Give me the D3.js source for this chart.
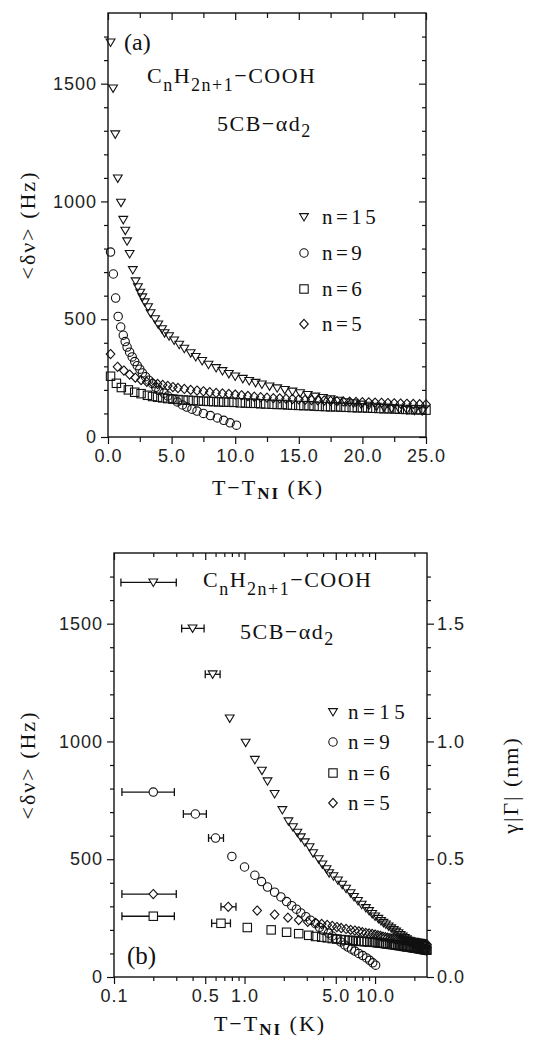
<!DOCTYPE html>
<html><head><meta charset="utf-8">
<script src="https://cdn.jsdelivr.net/npm/d3@7"></script>
<style>
html,body{margin:0;padding:0;background:#fff;}
svg{display:block;}
.tk text{font-family:"Liberation Sans",Arial,sans-serif;font-size:18px;letter-spacing:1px;fill:#222;}
.tk path{display:none;}
.tk line{stroke:#111;stroke-width:1.2;}
.serif{font-family:"Liberation Serif","Times New Roman","DejaVu Serif",serif;fill:#111;}
</style></head>
<body>
<script>
// ---------------- data ----------------
const seriesNames = ["n=15", "n=9", "n=6", "n=5"];

const n15X = [0.2, 0.4, 0.57, 0.77, 1.02, 1.2, 1.36, 1.5, 1.7, 1.95, 2.17, 2.35, 2.54, 2.7, 2.9, 3.15, 3.35, 3.7, 3.95, 4.25, 4.45, 4.8, 5.2, 5.6, 6.0, 6.5, 6.9, 7.4, 7.9, 8.5, 9.0, 9.5, 10.0, 10.6, 11.1, 11.6, 12.1, 12.7, 13.3, 13.9, 14.5, 15.1, 15.7, 16.3, 16.9, 17.5, 18.1, 18.7, 19.3, 19.9, 20.5, 21.1, 21.7, 22.3, 22.9, 23.5, 24.1, 24.7];
const n15Y = [1675, 1480, 1285, 1098, 995, 922, 876, 831, 777, 709, 661, 636, 613, 593, 572, 551, 526, 500, 478, 458, 441, 428, 410, 392, 375, 356, 340, 323, 307, 293, 280, 268, 257, 247, 238, 230, 223, 215, 207, 200, 193, 186, 179, 172, 166, 160, 154, 148, 143, 138, 133, 129, 125, 121, 118, 115, 112, 110];
const n15Err = [[0.113, 0.30], [0.33, 0.49], [0.50, 0.65]];

const n9X = [0.2, 0.42, 0.6, 0.8, 1.0, 1.2, 1.35, 1.5, 1.7, 1.9, 2.1, 2.3, 2.5, 2.7, 2.95, 3.2, 3.5, 3.75, 4.0, 4.4, 4.7, 5.05, 5.45, 5.85, 6.2, 6.6, 7.0, 7.5, 8.05, 8.6, 9.1, 9.6, 10.1];
const n9Y = [785, 692, 590, 512, 467, 432, 405, 382, 360, 340, 320, 303, 288, 272, 256, 241, 226, 211, 198, 186, 174, 162, 149, 136, 127, 118, 110, 100, 91, 81, 71, 60, 50];
const n9Err = [[0.115, 0.29], [0.34, 0.51], [0.53, 0.69]];

const n6X = [0.2, 0.66, 1.05, 1.6, 2.1, 2.6, 3.1, 3.5, 3.9, 4.3, 4.7, 5.1, 5.5, 5.9, 6.3, 6.7, 7.1, 7.5, 7.9, 8.3, 8.7, 9.1, 9.5, 9.9, 10.4, 10.8, 11.2, 11.6, 12.0, 12.4, 12.9, 13.3, 13.7, 14.1, 14.5, 15.0, 15.4, 15.8, 16.2, 16.6, 17.1, 17.5, 17.9, 18.3, 18.7, 19.2, 19.6, 20.0, 20.4, 20.8, 21.3, 21.7, 22.1, 22.5, 22.9, 23.4, 23.8, 24.2, 24.6, 25.0];
const n6Y = [258, 228, 210, 200, 190, 184, 177, 172, 169, 166, 163, 161, 159, 157, 156, 155, 153, 152, 151, 150, 149, 148, 148, 147, 145, 144, 143, 143, 141, 140, 139, 138, 138, 136, 135, 134, 133, 133, 131, 130, 129, 128, 128, 127, 126, 125, 124, 124, 123, 122, 121, 120, 120, 119, 118, 117, 116, 116, 115, 114];
const n6Err = [[0.115, 0.29], [0.56, 0.78]];

const n5X = [0.2, 0.75, 1.25, 1.7, 2.15, 2.6, 3.05, 3.5, 3.9, 4.3, 4.7, 5.1, 5.5, 6.0, 6.5, 7.0, 7.5, 8.0, 8.5, 9.0, 9.5, 10.0, 10.5, 11.0, 11.5, 12.0, 12.5, 13.0, 13.5, 14.0, 14.5, 15.0, 15.5, 16.0, 16.5, 17.0, 17.5, 18.0, 18.5, 19.0, 19.5, 20.0, 20.5, 21.0, 21.5, 22.0, 22.5, 23.0, 23.5, 24.0, 24.5, 25.0];
const n5Y = [352, 298, 282, 265, 252, 242, 234, 230, 225, 221, 217, 212, 208, 204, 200, 197, 194, 190, 187, 185, 183, 180, 177, 174, 171, 169, 167, 165, 164, 162, 161, 160, 158, 157, 156, 155, 153, 152, 151, 150, 149, 148, 147, 146, 145, 144, 143, 142, 141, 140, 139, 138];
const n5Err = [[0.115, 0.30], [0.66, 0.86]];

// tick labels
const linTickLabels = [0, 5, 10, 15, 20, 25];
const logTickLabels = [0.1, 0.5, 1, 5, 10];
const hzTicks = [0, 500, 1000, 1500];
const nmTicks = [0, 0.5, 1.0, 1.5];

// ---------------- drawing ----------------
const W = 538, H = 1042;
const svg = d3.select("body").append("svg").attr("width", W).attr("height", H);
svg.append("rect").attr("width", W).attr("height", H).attr("fill", "#fff");

const series = [
  {name: seriesNames[3], xs: n5X, ys: n5Y, err: n5Err, shape: "dia"},
  {name: seriesNames[2], xs: n6X, ys: n6Y, err: n6Err, shape: "sq"},
  {name: seriesNames[1], xs: n9X, ys: n9Y, err: n9Err, shape: "circ"},
  {name: seriesNames[0], xs: n15X, ys: n15Y, err: n15Err, shape: "tri"}
];
const legendOrder = ["tri", "circ", "sq", "dia"];

function drawMarker(g, shape, x, y, fill) {
  let el;
  if (shape === "circ") el = g.append("circle").attr("cx", x).attr("cy", y).attr("r", 4.2);
  else if (shape === "sq") el = g.append("rect").attr("x", x - 4.2).attr("y", y - 4.2).attr("width", 8.4).attr("height", 8.4);
  else if (shape === "tri") el = g.append("path").attr("d", "M-4.4,-3.4L4.4,-3.4L0,4Z").attr("transform", `translate(${x},${y})`);
  else el = g.append("path").attr("d", "M0,-4.6L4.3,0L0,4.6L-4.3,0Z").attr("transform", `translate(${x},${y})`);
  el.attr("fill", fill || "none").attr("stroke", "#111").attr("stroke-width", 1.1);
}

function styleAxis(g) { g.attr("class", "tk"); }

function chemText(x, y1, x2, y2, size) {
  const t = svg.append("text").attr("class", "serif").attr("x", x).attr("y", y1)
    .attr("font-size", size).attr("letter-spacing", 1.5);
  t.append("tspan").text("C");
  t.append("tspan").attr("dy", 8).attr("font-size", size - 4).text("n");
  t.append("tspan").attr("dy", -8).text("H");
  t.append("tspan").attr("dy", 8).attr("font-size", size - 4).text("2n+1");
  t.append("tspan").attr("dy", -8).text("\u2212COOH");
  const t2 = svg.append("text").attr("class", "serif").attr("x", x2).attr("y", y2)
    .attr("font-size", size).attr("letter-spacing", 1.5);
  t2.append("tspan").text("5CB\u2212\u03B1d");
  t2.append("tspan").attr("dy", 6).attr("font-size", size - 4).text("2");
}

function xTitle(cx, y) {
  const t = svg.append("text").attr("class", "serif").attr("x", cx).attr("y", y)
    .attr("text-anchor", "middle").attr("font-size", 22).attr("letter-spacing", 2);
  t.append("tspan").text("T\u2212T");
  t.append("tspan").attr("dy", 4).attr("font-size", 17).attr("font-weight", "bold").text("NI");
  t.append("tspan").attr("dy", -4).text(" (K)");
}

function yTitle(x, cy, txt) {
  svg.append("text").attr("class", "serif").attr("transform", `translate(${x},${cy}) rotate(-90)`)
    .attr("text-anchor", "middle").attr("font-size", 22).attr("letter-spacing", 2).text(txt);
}

function legend(sx, tx, ys, spacing) {
  legendOrder.forEach((shape, i) => {
    const s = series.find(d => d.shape === shape);
    drawMarker(svg, shape, sx, ys[i], "none");
    svg.append("text").attr("class", "serif").attr("x", tx).attr("y", ys[i] + 7)
      .attr("font-size", 21).attr("letter-spacing", spacing).text(s.name);
  });
}

// ===== Panel (a) =====
const xA = d3.scaleLinear().domain([0, 25]).range([108, 426]);
const yA = d3.scaleLinear().domain([0, 1800]).range([437, 13]);

svg.append("rect").attr("x", 108).attr("y", 13).attr("width", 318).attr("height", 424)
  .attr("fill", "none").attr("stroke", "#111").attr("stroke-width", 1.4);

const minorHz = d3.range(100, 1800, 100).filter(v => v % 500 !== 0);
svg.append("g").attr("transform", "translate(108,0)").call(
  d3.axisLeft(yA).tickValues(hzTicks).tickSize(7).tickPadding(4).tickFormat(d3.format("d"))).call(styleAxis);
svg.append("g").attr("transform", "translate(108,0)").call(
  d3.axisLeft(yA).tickValues(minorHz).tickSize(4).tickFormat("")).call(styleAxis);
svg.append("g").attr("transform", "translate(426,0)").call(
  d3.axisLeft(yA).tickValues(hzTicks).tickSize(7).tickFormat("")).call(styleAxis);
svg.append("g").attr("transform", "translate(426,0)").call(
  d3.axisLeft(yA).tickValues(minorHz).tickSize(4).tickFormat("")).call(styleAxis);
const minorLin = d3.range(2.5, 25, 5);
svg.append("g").attr("transform", "translate(0,437)").call(
  d3.axisBottom(xA).tickValues(linTickLabels).tickSize(7).tickPadding(5).tickFormat(d3.format(".1f"))).call(styleAxis);
svg.append("g").attr("transform", "translate(0,437)").call(
  d3.axisBottom(xA).tickValues(minorLin).tickSize(5).tickFormat("")).call(styleAxis);
svg.append("g").attr("transform", "translate(0,13)").call(
  d3.axisBottom(xA).tickValues(linTickLabels).tickSize(7).tickFormat("")).call(styleAxis);
svg.append("g").attr("transform", "translate(0,13)").call(
  d3.axisBottom(xA).tickValues(minorLin).tickSize(5).tickFormat("")).call(styleAxis);

const gA = svg.append("g");
series.forEach(s => {
  d3.zip(s.xs, s.ys).forEach(([x, y]) => drawMarker(gA, s.shape, xA(x), yA(y), "none"));
});

svg.append("text").attr("class", "serif").attr("x", 124).attr("y", 50).attr("font-size", 24).text("(a)");
chemText(147, 83, 217, 131, 22);
legend(304, 322, [217, 253, 289, 324], 3.5);
xTitle(268, 495);
yTitle(35, 225, "<\u03B4\u03BD> (Hz)");

// ===== Panel (b) =====
const xB = d3.scaleLog().domain([0.1, 25]).range([114, 427]);
const yB = d3.scaleLinear().domain([0, 1800]).range([977, 553]);
const yB2 = d3.scaleLinear().domain([0, 1.8]).range([977, 553]);

svg.append("rect").attr("x", 114).attr("y", 553).attr("width", 313).attr("height", 424)
  .attr("fill", "none").attr("stroke", "#111").attr("stroke-width", 1.4);

svg.append("g").attr("transform", "translate(114,0)").call(
  d3.axisLeft(yB).tickValues(hzTicks).tickSize(7).tickPadding(4).tickFormat(d3.format("d"))).call(styleAxis);
svg.append("g").attr("transform", "translate(114,0)").call(
  d3.axisLeft(yB).tickValues(minorHz).tickSize(4).tickFormat("")).call(styleAxis);
const minorNm = d3.range(0.1, 1.8, 0.1).filter(v => Math.abs(v * 2 - Math.round(v * 2)) > 1e-6);
svg.append("g").attr("transform", "translate(427,0)").call(
  d3.axisRight(yB2).tickValues(nmTicks).tickSize(7).tickPadding(3).tickFormat(d3.format(".1f"))).call(styleAxis);
svg.append("g").attr("transform", "translate(427,0)").call(
  d3.axisRight(yB2).tickValues(minorNm).tickSize(4).tickFormat("")).call(styleAxis);

const logMinor = [];
[0.1, 1, 10].forEach(dec => { for (let k = 1; k <= 9; k++) { const v = dec * k; if (v <= 25 && logTickLabels.indexOf(+v.toFixed(3)) < 0) logMinor.push(v); } });
svg.append("g").attr("transform", "translate(0,977)").call(
  d3.axisBottom(xB).tickValues(logTickLabels).tickSize(7).tickPadding(5).tickFormat(d3.format(".1f"))).call(styleAxis);
svg.append("g").attr("transform", "translate(0,977)").call(
  d3.axisBottom(xB).tickValues(logMinor).tickSize(4).tickFormat("")).call(styleAxis);
svg.append("g").attr("transform", "translate(0,553)").call(
  d3.axisBottom(xB).tickValues(logTickLabels).tickSize(7).tickFormat("")).call(styleAxis);
svg.append("g").attr("transform", "translate(0,553)").call(
  d3.axisBottom(xB).tickValues(logMinor).tickSize(4).tickFormat("")).call(styleAxis);

const gB = svg.append("g");
series.forEach(s => {
  s.err.forEach(([lo, hi], i) => {
    const y = yB(s.ys[i]);
    gB.append("line").attr("x1", xB(lo)).attr("x2", xB(hi)).attr("y1", y).attr("y2", y)
      .attr("stroke", "#111").attr("stroke-width", 1.3);
    [lo, hi].forEach(v => gB.append("line").attr("x1", xB(v)).attr("x2", xB(v))
      .attr("y1", y - 4).attr("y2", y + 4).attr("stroke", "#111").attr("stroke-width", 1.3));
  });
  d3.zip(s.xs, s.ys).forEach(([x, y], i) =>
    drawMarker(gB, s.shape, xB(x), yB(y), i < s.err.length ? "#fff" : "none"));
});

svg.append("text").attr("class", "serif").attr("x", 127).attr("y", 964).attr("font-size", 25).text("(b)");
chemText(203, 587, 240, 639, 22);
legend(333, 348, [712, 742, 773, 803], 4.5);
xTitle(270, 1031);
yTitle(35, 765, "<\u03B4\u03BD> (Hz)");
yTitle(518, 785, "\u03B3|\u0393| (nm)");
</script>
</body></html>
